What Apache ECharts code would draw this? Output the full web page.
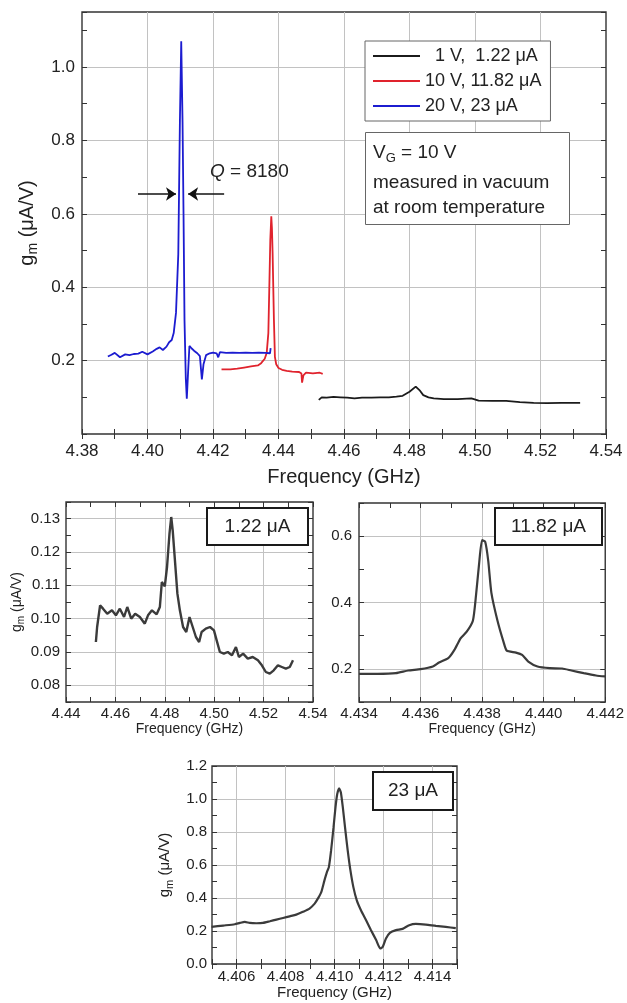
<!DOCTYPE html>
<html>
<head>
<meta charset="utf-8">
<title>gm vs frequency</title>
<script src="https://cdn.jsdelivr.net/npm/echarts@6/dist/echarts.min.js"></script>
<style>
  html, body { margin: 0; padding: 0; background: #fff; }
  #chart { width: 627px; height: 1003px; }
</style>
</head>
<body>
<div id="chart"></div>
<script>
const FONT = '"Liberation Sans", Arial, Helvetica, sans-serif';
const INK = '#222';

// ---- overview panel: three bias points ----
const blackFreq = [4.4523, 4.4532, 4.4547, 4.4568, 4.4589, 4.4610, 4.4632, 4.4655, 4.4684, 4.4710,
  4.4737, 4.4760, 4.4779, 4.4800, 4.4819, 4.4832, 4.4842, 4.4858, 4.4874, 4.4905,
  4.4947, 4.4989, 4.5011, 4.5053, 4.5095, 4.5137, 4.5179, 4.5221, 4.5263, 4.5321];
const blackGm = [0.093, 0.100, 0.099, 0.101, 0.100, 0.099, 0.097, 0.099, 0.099, 0.100,
  0.100, 0.102, 0.104, 0.115, 0.129, 0.118, 0.106, 0.100, 0.097, 0.095,
  0.095, 0.097, 0.091, 0.090, 0.090, 0.087, 0.085, 0.084, 0.085, 0.085];

const redFreq = [4.4226, 4.4253, 4.4274, 4.4295, 4.4316, 4.4337, 4.4347, 4.4358, 4.4364, 4.4369,
  4.4372, 4.4375, 4.4378, 4.4380, 4.4382, 4.4386, 4.4389, 4.4393, 4.4400, 4.4411,
  4.4425, 4.4442, 4.4463, 4.4470, 4.4472, 4.4476, 4.4484, 4.4505, 4.4526, 4.4535];
const redGm = [0.176, 0.176, 0.178, 0.181, 0.184, 0.187, 0.193, 0.205, 0.221, 0.275,
  0.402, 0.530, 0.593, 0.560, 0.493, 0.312, 0.210, 0.190, 0.180, 0.175,
  0.172, 0.170, 0.169, 0.165, 0.140, 0.160, 0.167, 0.165, 0.167, 0.164];

const blueFreq = [4.3879, 4.3890, 4.3900, 4.3916, 4.3932, 4.3945, 4.3958, 4.3972, 4.3984, 4.4000,
  4.4016, 4.4028, 4.4037, 4.4047, 4.4058, 4.4066, 4.4074, 4.4080, 4.4087, 4.4094,
  4.4099, 4.4103, 4.4107, 4.4110, 4.4113, 4.4117, 4.4120, 4.4124, 4.4128, 4.4135,
  4.4142, 4.4152, 4.4160, 4.4166, 4.4171, 4.4179, 4.4190, 4.4200, 4.4211, 4.4216,
  4.4221, 4.4240, 4.4260, 4.4280, 4.4300, 4.4320, 4.4340, 4.4360, 4.4374, 4.4376];
const blueGm = [0.211, 0.216, 0.221, 0.209, 0.217, 0.215, 0.218, 0.219, 0.224, 0.217,
  0.225, 0.232, 0.236, 0.229, 0.238, 0.250, 0.256, 0.275, 0.330, 0.490,
  0.856, 1.070, 0.850, 0.600, 0.310, 0.150, 0.096, 0.170, 0.240, 0.233,
  0.227, 0.220, 0.212, 0.149, 0.190, 0.215, 0.220, 0.222, 0.220, 0.209,
  0.223, 0.221, 0.222, 0.221, 0.222, 0.221, 0.222, 0.221, 0.220, 0.234];

const seriesNames = ['  1 V,  1.22 μA', '10 V, 11.82 μA', '20 V, 23 μA'];
const seriesColors = ['#1b1b1b', '#e0232d', '#1c1cd0'];

// Q arrows (data coords)
const qArrowGm = 0.654;
const qArrowLeft = [4.3971, 4.4087];
const qArrowRight = [4.4234, 4.4124];

// ---- zoomed panels ----
const lowFreq = [4.4521, 4.4526, 4.4538, 4.4550, 4.4567, 4.4586, 4.4602, 4.4618, 4.4635, 4.4648,
  4.4664, 4.4680, 4.4699, 4.4719, 4.4732, 4.4748, 4.4767, 4.4780, 4.4788, 4.4800,
  4.4809, 4.4819, 4.4826, 4.4832, 4.4842, 4.4851, 4.4861, 4.4874, 4.4887, 4.4900,
  4.4913, 4.4926, 4.4939, 4.4949, 4.4966, 4.4983, 4.4999, 4.5010, 4.5023, 4.5039,
  4.5055, 4.5072, 4.5088, 4.5100, 4.5117, 4.5136, 4.5156, 4.5177, 4.5193, 4.5209,
  4.5225, 4.5241, 4.5258, 4.5274, 4.5290, 4.5306, 4.5319];
const lowGm = [0.0930, 0.0975, 0.1040, 0.1030, 0.1015, 0.1025, 0.1010, 0.1030, 0.1005, 0.1035,
  0.1000, 0.1015, 0.1005, 0.0985, 0.1010, 0.1025, 0.1013, 0.1035, 0.1110, 0.1097,
  0.1155, 0.1255, 0.1305, 0.1265, 0.1165, 0.1075, 0.1025, 0.0975, 0.0960, 0.1005,
  0.0975, 0.0945, 0.0930, 0.0960, 0.0970, 0.0975, 0.0965, 0.0935, 0.0900, 0.0895,
  0.0900, 0.0890, 0.0915, 0.0885, 0.0895, 0.0880, 0.0885, 0.0875, 0.0860, 0.0840,
  0.0835, 0.0845, 0.0860, 0.0855, 0.0850, 0.0855, 0.0875];

const midFreq = [4.4340, 4.4346, 4.4352, 4.4356, 4.4360, 4.4364, 4.4366, 4.4369, 4.4371, 4.4373,
  4.4375, 4.4377, 4.4378, 4.4379, 4.4380, 4.4381, 4.4382, 4.4383, 4.4385, 4.4387,
  4.4388, 4.4391, 4.4393, 4.4395, 4.4398, 4.4402, 4.4406, 4.4409, 4.4413, 4.4417, 4.4420];
const midGm = [0.185, 0.185, 0.187, 0.195, 0.199, 0.207, 0.219, 0.232, 0.257, 0.292,
  0.312, 0.345, 0.420, 0.515, 0.588, 0.583, 0.525, 0.430, 0.345, 0.280,
  0.255, 0.249, 0.242, 0.222, 0.207, 0.202, 0.201, 0.195, 0.187, 0.180, 0.177];

const highFreq = [4.40498, 4.40546, 4.40593, 4.40614, 4.40634, 4.40654, 4.40681, 4.40708, 4.40736, 4.40763,
  4.40790, 4.40817, 4.40844, 4.40871, 4.40898, 4.40919, 4.40932, 4.40946, 4.40959, 4.40969,
  4.40977, 4.40986, 4.40996, 4.41004, 4.41011, 4.41019, 4.41026, 4.41034, 4.41043, 4.41054,
  4.41065, 4.41077, 4.41091, 4.41108, 4.41129, 4.41149, 4.41170, 4.41187, 4.41197, 4.41210,
  4.41226, 4.41251, 4.41278, 4.41305, 4.41332, 4.41373, 4.41414, 4.41454, 4.41495];
const highGm = [0.225, 0.233, 0.241, 0.249, 0.255, 0.249, 0.247, 0.249, 0.259, 0.269,
  0.279, 0.289, 0.299, 0.316, 0.336, 0.366, 0.396, 0.436, 0.507, 0.557,
  0.587, 0.687, 0.828, 0.949, 1.029, 1.065, 1.039, 0.949, 0.828, 0.687,
  0.567, 0.466, 0.386, 0.326, 0.265, 0.205, 0.145, 0.094, 0.105, 0.155,
  0.189, 0.205, 0.213, 0.235, 0.243, 0.239, 0.231, 0.225, 0.217];

// ---- tick labels / grid positions ----
const mainXLabels = [4.38, 4.40, 4.42, 4.44, 4.46, 4.48, 4.50, 4.52, 4.54];
const mainXGrid = [4.40, 4.42, 4.44, 4.46, 4.48, 4.50, 4.52];
const mainYLabels = [0.2, 0.4, 0.6, 0.8, 1.0];
const lowXLabels = [4.44, 4.46, 4.48, 4.50, 4.52, 4.54];
const lowXGrid = [4.46, 4.48, 4.50, 4.52];
const lowYLabels = [0.08, 0.09, 0.10, 0.11, 0.12, 0.13];
const midXLabels = [4.434, 4.436, 4.438, 4.440, 4.442];
const midXGrid = [4.436, 4.438, 4.440];
const midYLabels = [0.2, 0.4, 0.6];
const highXLabels = [4.406, 4.408, 4.410, 4.412, 4.414];
const highYLabels = [0.0, 0.2, 0.4, 0.6, 0.8, 1.0, 1.2];
const highYGrid = [0.2, 0.4, 0.6, 0.8, 1.0];

const boxLabels = ['1.22 μA', '11.82 μA', '23 μA'];

function zip(xs, ys) {
  return xs.map((x, i) => [x, ys[i]]);
}

const gmName = '{n|g}{s|m}{n| (μA/V)}';
function gmRich(size) {
  return {
    n: { fontSize: size, fontFamily: FONT, color: INK },
    s: { fontSize: Math.round(size * 0.7), fontFamily: FONT, color: INK, padding: [Math.round(size * 0.6), 0, 0, 0] },
  };
}

// one label axis (labels + grid lines) and two tick-only axes (both sides) per dimension
function panelAxes(dim, gridIndex, c) {
  const sides = dim === 'x' ? ['bottom', 'top'] : ['left', 'right'];
  const base = { type: 'value', gridIndex: gridIndex, min: c.min, max: c.max };
  const labelAxis = Object.assign({}, base, {
    position: sides[0],
    axisLine: { show: false },
    axisTick: { show: false, customValues: c.grid },
    axisLabel: {
      customValues: c.labels,
      formatter: (v) => v.toFixed(c.digits),
      fontSize: c.font,
      fontFamily: FONT,
      color: INK,
      margin: c.margin,
    },
    splitLine: { show: true, lineStyle: { color: '#c2c2c2', width: 1 } },
    name: c.name || '',
    nameLocation: 'middle',
    nameGap: c.nameGap || 0,
    nameTextStyle: { fontSize: c.nameSize, fontFamily: FONT, color: INK, rich: gmRich(c.nameSize) },
  });
  const tickAxis = (side) => Object.assign({}, base, {
    position: side,
    interval: c.minor,
    axisLine: { show: false },
    axisTick: { show: true, inside: true, length: 5, lineStyle: { color: '#333', width: 1 } },
    axisLabel: { show: false },
    splitLine: { show: false },
  });
  return [labelAxis, tickAxis(sides[0]), tickAxis(sides[1])];
}

const panels = [
  {
    grid: { left: 82, top: 12, width: 524, height: 422 },
    x: { min: 4.38, max: 4.54, minor: 0.01, labels: mainXLabels, grid: mainXGrid, digits: 2, font: 17, margin: 9,
         name: 'Frequency (GHz)', nameSize: 20, nameGap: 33 },
    y: { min: 0, max: 1.15, minor: 0.1, labels: mainYLabels, grid: mainYLabels, digits: 1, font: 17, margin: 7,
         name: gmName, nameSize: 20, nameGap: 40 },
  },
  {
    grid: { left: 66, top: 502, width: 247, height: 200 },
    x: { min: 4.44, max: 4.54, minor: 0.01, labels: lowXLabels, grid: lowXGrid, digits: 2, font: 15, margin: 4,
         name: 'Frequency (GHz)', nameSize: 14, nameGap: 19 },
    y: { min: 0.075, max: 0.135, minor: 0.005, labels: lowYLabels, grid: lowYLabels, digits: 2, font: 15, margin: 6,
         name: gmName, nameSize: 14, nameGap: 40 },
  },
  {
    grid: { left: 359, top: 503, width: 248, height: 199 },
    x: { min: 4.434, max: 4.442, minor: 0.001, labels: midXLabels, grid: midXGrid, digits: 3, font: 15, margin: 4,
         name: 'Frequency (GHz)', nameSize: 14, nameGap: 19 },
    y: { min: 0.1, max: 0.7, minor: 0.1, labels: midYLabels, grid: midYLabels, digits: 1, font: 15, margin: 7,
         nameSize: 14 },
  },
  {
    grid: { left: 212, top: 766, width: 245, height: 198 },
    x: { min: 4.405, max: 4.415, minor: 0.001, labels: highXLabels, grid: highXLabels, digits: 3, font: 15, margin: 5,
         name: 'Frequency (GHz)', nameSize: 15, nameGap: 21 },
    y: { min: 0, max: 1.2, minor: 0.1, labels: highYLabels, grid: highYGrid, digits: 1, font: 15, margin: 5,
         name: gmName, nameSize: 15, nameGap: 37 },
  },
];

const grids = panels.map((p) => Object.assign({ show: true, borderColor: '#333', borderWidth: 1.4 }, p.grid));
let xAxes = [];
let yAxes = [];
panels.forEach((p, i) => {
  xAxes = xAxes.concat(panelAxes('x', i, p.x));
  yAxes = yAxes.concat(panelAxes('y', i, p.y));
});

function lineSeries(name, axisIndex, data, color, width, smooth) {
  return {
    name: name,
    type: 'line',
    xAxisIndex: axisIndex,
    yAxisIndex: axisIndex,
    data: data,
    showSymbol: false,
    smooth: smooth || false,
    lineStyle: { color: color, width: width },
    itemStyle: { color: color },
    silent: true,
  };
}

const panelData = [
  zip(blueFreq, blueGm),
  zip(lowFreq, lowGm),
  zip(midFreq, midGm),
  zip(highFreq, highGm),
];

const series = [
  lineSeries(seriesNames[0], 0, zip(blackFreq, blackGm), seriesColors[0], 1.8),
  lineSeries(seriesNames[1], 0, zip(redFreq, redGm), seriesColors[1], 1.8),
  lineSeries(seriesNames[2], 0, panelData[0], seriesColors[2], 1.8),
  lineSeries('low', 3, panelData[1], '#3b3b3b', 2.4),
  lineSeries('mid', 6, panelData[2], '#3b3b3b', 2.2, 0.2),
  lineSeries('high', 9, panelData[3], '#3b3b3b', 2.2, 0.2),
];

// the tick-only axes need data bound to them, otherwise they count as blank and draw no ticks
panelData.forEach((d, p) => {
  [1, 2].forEach((k) => {
    const ghost = lineSeries('ghost', p * 3 + k, d, '#000', 1);
    ghost.lineStyle.opacity = 0;
    series.push(ghost);
  });
});

series[2].markLine = {
  silent: true,
  symbol: ['none', 'arrow'],
  symbolSize: 10,
  label: { show: false },
  lineStyle: { color: '#111', width: 1.5, type: 'solid' },
  data: [
    [{ coord: [qArrowLeft[0], qArrowGm] }, { coord: [qArrowLeft[1], qArrowGm] }],
    [{ coord: [qArrowRight[0], qArrowGm] }, { coord: [qArrowRight[1], qArrowGm] }],
  ],
};

// framed labels in the zoomed panels
const boxSpots = [
  { x: 207, y: 508, w: 101, h: 37 },
  { x: 495, y: 508, w: 107, h: 37 },
  { x: 373, y: 772, w: 80, h: 38 },
];
const graphics = [];
boxSpots.forEach((b, i) => {
  graphics.push({
    type: 'rect', z: 100,
    shape: { x: b.x, y: b.y, width: b.w, height: b.h },
    style: { fill: '#fff', stroke: '#1a1a1a', lineWidth: 2 },
  });
  graphics.push({
    type: 'text', z: 101, x: b.x + b.w / 2, y: b.y + b.h / 2,
    style: { text: boxLabels[i], fontSize: 19, fontFamily: FONT, fill: INK, align: 'center', verticalAlign: 'middle' },
  });
});

// conditions box
const textRich = {
  n: { fontSize: 19, fontFamily: FONT, fill: INK },
  s: { fontSize: 13, fontFamily: FONT, fill: INK, padding: [11, 0, 0, 0] },
  i: { fontSize: 19, fontFamily: FONT, fill: INK, fontStyle: 'italic' },
};
graphics.push({
  type: 'rect', z: 100,
  shape: { x: 365.5, y: 132.5, width: 204, height: 92 },
  style: { fill: '#fff', stroke: '#666', lineWidth: 1 },
});
[['{n|V}{s|G}{n| = 10 V}', 153], ['{n|measured in vacuum}', 183], ['{n|at room temperature}', 208]].forEach((t) => {
  graphics.push({
    type: 'text', z: 101, x: 373, y: t[1],
    style: { text: t[0], rich: textRich, verticalAlign: 'middle' },
  });
});
graphics.push({
  type: 'text', z: 101, x: 210, y: 172,
  style: { text: '{i|Q}{n| = 8180}', rich: textRich, verticalAlign: 'middle' },
});

const chart = echarts.init(document.getElementById('chart'));
chart.setOption({
  animation: false,
  backgroundColor: '#fff',
  textStyle: { fontFamily: FONT },
  grid: grids,
  xAxis: xAxes,
  yAxis: yAxes,
  legend: {
    data: seriesNames,
    orient: 'vertical',
    left: 365,
    top: 41,
    padding: [6, 9, 6, 8],
    itemGap: 7,
    itemWidth: 47,
    itemHeight: 2,
    icon: 'rect',
    selectedMode: false,
    backgroundColor: '#fff',
    borderColor: '#666',
    borderWidth: 1,
    textStyle: { fontSize: 18, color: INK, fontFamily: FONT },
  },
  series: series,
  graphic: graphics,
});
</script>
</body>
</html>
